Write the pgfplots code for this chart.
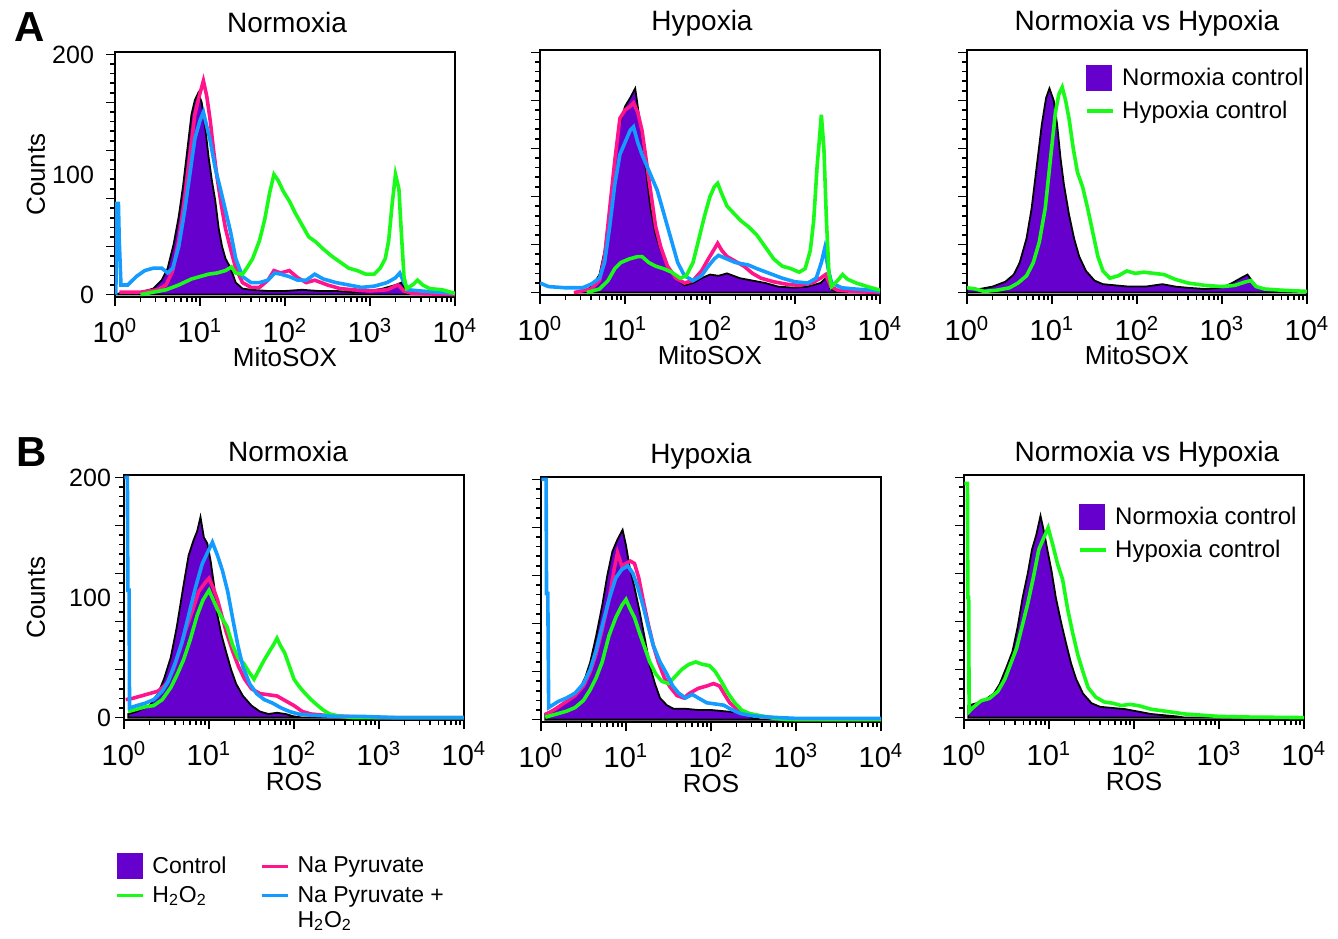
\documentclass[border=0pt]{standalone}
\usepackage{fontspec}
\setmainfont{Liberation Sans}
\usepackage{pgfplots}
\pgfplotsset{compat=1.18}

\definecolor{ctrlpurple}{RGB}{102,0,204}
\definecolor{hgreen}{RGB}{25,250,25}
\definecolor{npink}{RGB}{255,20,140}
\definecolor{nblue}{RGB}{20,155,255}

% x values are log10 of the fluorescence intensity (axis drawn as 10^0 ... 10^4)
\pgfplotsset{
  every axis title/.style={at={(axis description cs:0.5,1)}, anchor=base, font=\fontsize{14}{16}\selectfont},
  flow/.style={
    scale only axis, width=170pt, height=122.5pt,
    xmin=0, xmax=4, ymin=-2, ymax=202,
    axis line style={line width=1pt},
    xtick={0,1,2,3,4},
    xticklabels={10\textsuperscript{0},10\textsuperscript{1},10\textsuperscript{2},10\textsuperscript{3},10\textsuperscript{4}},
    minor xtick={0.301,0.477,0.602,0.699,0.778,0.845,0.903,0.954,
                 1.301,1.477,1.602,1.699,1.778,1.845,1.903,1.954,
                 2.301,2.477,2.602,2.699,2.778,2.845,2.903,2.954,
                 3.301,3.477,3.602,3.699,3.778,3.845,3.903,3.954},
    ytick={0,40,80,120,160,200}, yticklabels={},
    minor y tick num=4,
    tick align=outside, tick pos=left,
    major tick length=4.5pt, minor tick length=2.5pt,
    every tick/.append style={line width=0.8pt, black},
    yticklabel style={font=\fontsize{12.5}{15}\selectfont},
    xticklabel style={font=\fontsize{14.5}{17}\selectfont, yshift=-2.5pt},
    label style={font=\fontsize{13}{15}\selectfont},
    xlabel style={at={(axis description cs:0.5,0)}, anchor=base, yshift=-35pt},
    legend style={draw=none, fill=none, font=\fontsize{12}{14}\selectfont, row sep=2pt},
    legend cell align=left,
  },
  ctrl/.style={fill=ctrlpurple, draw=black, line width=0.9pt, forget plot},
  gr/.style={hgreen, line width=1.8pt, forget plot},
  pk/.style={npink, line width=1.8pt, forget plot},
  bl/.style={nblue, line width=1.8pt, forget plot},
  sqleg/.style={legend image code/.code={\fill[ctrlpurple] (0pt,-6pt) rectangle (12.5pt,6.5pt); \path (15pt,0pt);}},
  grleg/.style={legend image code/.code={\draw[hgreen, line width=1.6pt] (0pt,0pt) -- (13pt,0pt); \path (15.5pt,0pt);}},
  pkleg/.style={legend image code/.code={\draw[npink, line width=1.6pt] (0pt,0pt) -- (13pt,0pt); \path (15.5pt,0pt);}},
  blleg/.style={legend image code/.code={\draw[nblue, line width=1.6pt] (0pt,0pt) -- (13pt,0pt); \path (15.5pt,0pt);}},
}

\begin{document}
\begin{tikzpicture}
\useasboundingbox (0,0) rectangle (669pt,469pt);

\node[anchor=base west, font=\fontsize{21}{25}\selectfont\bfseries] at (3.5pt,448pt) {A};
\node[anchor=base west, font=\fontsize{21}{25}\selectfont\bfseries] at (4.5pt,235.5pt) {B};

% ---------- A, Normoxia ----------
\begin{axis}[flow, at={(57.5pt,320.5pt)}, anchor=south west,
  title={Normoxia}, title style={yshift=9.5pt, xshift=1pt},
  xlabel={MitoSOX}, ylabel={Counts},
  ylabel style={at={([xshift=-39.5pt]axis description cs:0,0.5)}, anchor=center},
  extra y ticks={0,100,200}, extra y tick labels={0,100,200},
  extra y tick style={major tick length=0pt, yticklabel style={xshift=-7pt}}]
\addplot[ctrl] coordinates {(0,0) (0.1,2) (0.3,2) (0.45,5) (0.55,12) (0.62,22) (0.69,42) (0.75,65) (0.8,90) (0.85,120) (0.9,150) (0.94,162) (0.98,168) (1.02,160) (1.06,140) (1.1,115) (1.14,95) (1.18,78) (1.22,55) (1.26,40) (1.3,30) (1.36,22) (1.42,10) (1.5,5) (1.6,4) (1.8,3) (2.0,3) (2.2,4) (2.4,3) (2.6,3) (2.8,2) (3.0,3) (3.15,5) (3.3,8) (3.37,10) (3.42,3) (3.5,1) (3.7,0) (4,0)} \closedcycle;
\addplot[pk] coordinates {(0.05,2) (0.3,2) (0.5,4) (0.6,8) (0.68,20) (0.75,45) (0.82,80) (0.88,115) (0.94,150) (0.99,165) (1.04,178) (1.08,165) (1.12,145) (1.16,120) (1.2,98) (1.25,75) (1.3,55) (1.36,38) (1.42,22) (1.5,10) (1.6,6) (1.7,6) (1.8,12) (1.87,20) (1.95,18) (2.05,20) (2.15,14) (2.25,10) (2.35,12) (2.5,8) (2.65,5) (2.8,4) (3.0,3) (3.2,4) (3.33,8) (3.4,3) (3.5,1) (4,0)};
\addplot[bl] coordinates {(0.01,0) (0.02,76) (0.04,76) (0.05,45) (0.07,8) (0.15,8) (0.25,15) (0.35,20) (0.45,22) (0.55,22) (0.62,18) (0.68,22) (0.75,40) (0.82,70) (0.88,100) (0.94,130) (1.0,145) (1.04,152) (1.08,140) (1.12,128) (1.18,105) (1.24,88) (1.3,70) (1.36,52) (1.42,30) (1.5,15) (1.6,10) (1.7,10) (1.8,12) (1.88,18) (1.95,17) (2.05,15) (2.15,12) (2.25,12) (2.35,17) (2.45,13) (2.6,10) (2.75,8) (2.9,6) (3.05,7) (3.2,10) (3.3,14) (3.35,18) (3.4,10) (3.45,4) (3.6,3) (3.8,2) (4,1)};
\addplot[gr] coordinates {(0.3,0) (0.45,2) (0.6,4) (0.75,8) (0.9,13) (1.0,15) (1.1,17) (1.2,18) (1.3,20) (1.37,23) (1.42,18) (1.5,17) (1.55,22) (1.62,30) (1.7,45) (1.76,62) (1.82,85) (1.87,100) (1.92,95) (1.98,86) (2.05,78) (2.12,68) (2.2,58) (2.28,48) (2.36,44) (2.45,38) (2.55,32) (2.65,27) (2.75,22) (2.85,20) (2.95,17) (3.05,17) (3.12,22) (3.18,30) (3.22,45) (3.26,75) (3.3,100) (3.34,88) (3.37,50) (3.4,15) (3.43,5) (3.5,8) (3.56,12) (3.62,8) (3.7,5) (3.85,4) (4,1)};
\end{axis}

% ---------- A, Hypoxia ----------
\begin{axis}[flow, at={(270pt,321.5pt)}, anchor=south west,
  title={Hypoxia}, title style={yshift=9.5pt, xshift=-4pt},
  xlabel={MitoSOX}]
\addplot[ctrl] coordinates {(0.4,0) (0.55,2) (0.62,6) (0.7,15) (0.76,35) (0.82,70) (0.88,110) (0.94,140) (1.0,155) (1.06,162) (1.12,170) (1.16,150) (1.2,130) (1.25,100) (1.3,70) (1.36,48) (1.42,35) (1.5,22) (1.6,12) (1.7,6) (1.8,8) (1.9,12) (2.0,15) (2.1,14) (2.2,16) (2.35,12) (2.5,10) (2.65,8) (2.8,5) (3.0,4) (3.15,5) (3.3,8) (3.36,12) (3.42,3) (3.5,1) (3.7,0) (4,0)} \closedcycle;
\addplot[pk] coordinates {(0.4,0) (0.6,3) (0.7,10) (0.76,30) (0.82,70) (0.88,110) (0.94,145) (1.0,152) (1.06,155) (1.1,158) (1.15,150) (1.2,135) (1.25,110) (1.3,85) (1.36,55) (1.42,38) (1.5,22) (1.6,12) (1.7,8) (1.8,10) (1.9,18) (1.98,28) (2.04,35) (2.09,41) (2.14,35) (2.2,30) (2.3,26) (2.4,22) (2.5,16) (2.6,12) (2.75,9) (2.9,7) (3.05,6) (3.2,8) (3.3,12) (3.36,15) (3.42,5) (3.5,2) (3.7,1) (4,0)};
\addplot[bl] coordinates {(0,8) (0.1,5) (0.3,4) (0.5,4) (0.6,7) (0.7,12) (0.76,25) (0.82,55) (0.88,90) (0.94,115) (1.0,125) (1.06,135) (1.1,138) (1.15,125) (1.2,115) (1.26,105) (1.32,95) (1.38,85) (1.44,70) (1.5,55) (1.56,40) (1.62,25) (1.7,14) (1.8,10) (1.9,14) (1.98,22) (2.05,28) (2.1,31) (2.2,28) (2.3,25) (2.45,23) (2.55,20) (2.7,16) (2.85,12) (3.0,9) (3.15,8) (3.25,12) (3.31,25) (3.35,37) (3.39,20) (3.43,8) (3.55,4) (3.7,3) (3.9,2) (4,1)};
\addplot[gr] coordinates {(0.55,0) (0.7,3) (0.8,10) (0.88,20) (0.95,25) (1.05,28) (1.15,30) (1.2,30) (1.28,25) (1.36,22) (1.45,20) (1.55,17) (1.65,12) (1.72,14) (1.8,25) (1.87,45) (1.94,65) (2.0,80) (2.05,88) (2.09,91) (2.14,82) (2.2,72) (2.28,66) (2.36,60) (2.45,55) (2.55,48) (2.65,38) (2.75,28) (2.85,22) (2.95,20) (3.05,17) (3.12,20) (3.18,35) (3.22,60) (3.26,105) (3.29,130) (3.31,148) (3.34,120) (3.37,60) (3.4,15) (3.43,5) (3.5,10) (3.56,15) (3.62,11) (3.72,8) (3.85,5) (3.95,3) (4,2)};
\end{axis}

% ---------- A, Normoxia vs Hypoxia ----------
\begin{axis}[flow, at={(483.5pt,321.5pt)}, anchor=south west,
  title={Normoxia vs Hypoxia}, title style={yshift=9.5pt, xshift=5pt},
  xlabel={MitoSOX},
  legend style={at={(axis description cs:1,1)}, anchor=north east, xshift=3.5pt, yshift=-5pt}]
\addlegendimage{sqleg}\addlegendentry{Normoxia control}
\addlegendimage{grleg}\addlegendentry{Hypoxia control}
\addplot[ctrl] coordinates {(0,3) (0.15,3) (0.3,5) (0.45,9) (0.55,15) (0.62,25) (0.7,45) (0.76,70) (0.82,105) (0.88,140) (0.93,162) (0.97,170) (1.02,160) (1.06,140) (1.1,112) (1.14,90) (1.2,65) (1.26,45) (1.32,30) (1.4,18) (1.5,10) (1.6,7) (1.75,6) (1.9,5) (2.1,5) (2.3,7) (2.45,5) (2.6,4) (2.8,3) (3.0,4) (3.12,8) (3.22,12) (3.3,15) (3.35,10) (3.42,4) (3.6,2) (3.8,1) (4,0)} \closedcycle;
\addplot[gr] coordinates {(0,4) (0.1,3) (0.2,1) (0.35,2) (0.5,4) (0.6,8) (0.7,14) (0.78,25) (0.85,42) (0.92,70) (0.98,110) (1.04,150) (1.08,165) (1.12,171) (1.16,160) (1.2,145) (1.25,120) (1.3,100) (1.36,88) (1.42,70) (1.48,50) (1.54,30) (1.6,18) (1.68,12) (1.78,14) (1.88,18) (1.98,16) (2.08,17) (2.2,16) (2.32,15) (2.45,11) (2.6,8) (2.8,6) (3.0,5) (3.15,6) (3.28,9) (3.34,10) (3.4,5) (3.5,3) (3.7,2) (4,1)};
\end{axis}

% ---------- B, Normoxia ----------
\begin{axis}[flow, at={(62pt,109pt)}, anchor=south west,
  title={Normoxia}, title style={yshift=6.5pt, xshift=-3pt},
  xlabel={ROS}, ylabel={Counts},
  ylabel style={at={([xshift=-44pt]axis description cs:0,0.5)}, anchor=center},
  extra y ticks={0,100,200}, extra y tick labels={0,100,200},
  extra y tick style={major tick length=0pt, yticklabel style={xshift=-3pt}}]
\addplot[ctrl] coordinates {(0.05,0) (0.05,3) (0.15,5) (0.3,10) (0.4,20) (0.47,32) (0.55,50) (0.62,75) (0.7,110) (0.76,135) (0.82,148) (0.86,155) (0.9,167) (0.94,150) (0.98,145) (1.02,130) (1.06,110) (1.1,85) (1.15,68) (1.2,55) (1.26,40) (1.32,28) (1.4,18) (1.5,10) (1.6,5) (1.7,3) (1.8,4) (1.9,3) (2.0,1) (2.1,0) (4,0)} \closedcycle;
\addplot[pk] coordinates {(0.02,15) (0.1,16) (0.2,18) (0.3,20) (0.4,22) (0.5,28) (0.58,40) (0.65,55) (0.72,72) (0.8,88) (0.88,105) (0.95,112) (1.0,116) (1.05,108) (1.1,98) (1.15,85) (1.2,72) (1.28,55) (1.35,42) (1.42,32) (1.5,24) (1.6,20) (1.7,19) (1.8,18) (1.9,14) (2.0,10) (2.1,5) (2.2,3) (2.35,2) (2.6,1) (3,0) (4,0)};
\addplot[gr] coordinates {(0.05,5) (0.15,7) (0.25,9) (0.35,10) (0.45,15) (0.55,25) (0.62,35) (0.7,48) (0.78,65) (0.86,85) (0.93,98) (1.0,106) (1.05,98) (1.1,90) (1.16,82) (1.21,76) (1.28,60) (1.34,50) (1.41,45) (1.47,38) (1.53,32) (1.59,40) (1.65,48) (1.71,55) (1.77,62) (1.8,66) (1.84,60) (1.89,54) (1.95,42) (2.0,32) (2.06,26) (2.12,21) (2.2,15) (2.28,10) (2.35,6) (2.42,3) (2.55,1) (2.7,0) (4,0)};
\addplot[bl] coordinates {(0.005,200) (0.04,200) (0.045,106) (0.06,106) (0.065,8) (0.15,10) (0.25,12) (0.35,15) (0.45,22) (0.52,30) (0.6,45) (0.68,62) (0.76,85) (0.84,108) (0.92,128) (1.0,140) (1.04,146) (1.1,135) (1.16,122) (1.22,105) (1.28,82) (1.34,60) (1.4,42) (1.48,28) (1.56,20) (1.65,15) (1.75,12) (1.85,8) (1.95,5) (2.05,3) (2.2,2) (2.5,1) (2.8,1) (3.2,0) (4,0)};
\end{axis}

% ---------- B, Hypoxia ----------
\begin{axis}[flow, at={(270.5pt,108pt)}, anchor=south west,
  title={Hypoxia}, title style={yshift=6.5pt, xshift=-5pt},
  xlabel={ROS}]
\addplot[ctrl] coordinates {(0.05,0) (0.05,5) (0.15,8) (0.25,12) (0.35,17) (0.45,25) (0.52,35) (0.58,48) (0.65,70) (0.72,95) (0.78,120) (0.84,140) (0.9,150) (0.96,158) (1.0,145) (1.04,128) (1.1,110) (1.16,90) (1.22,68) (1.28,45) (1.34,30) (1.4,18) (1.48,12) (1.56,9) (1.7,9) (1.85,8) (2.0,8) (2.15,7) (2.3,6) (2.42,4) (2.5,1) (2.6,0) (4,0)} \closedcycle;
\addplot[pk] coordinates {(0.05,4) (0.15,8) (0.3,15) (0.4,20) (0.5,28) (0.58,40) (0.65,55) (0.72,75) (0.8,100) (0.86,125) (0.9,139) (0.95,128) (1.0,130) (1.05,132) (1.1,130) (1.15,118) (1.2,100) (1.26,80) (1.32,62) (1.38,48) (1.45,35) (1.52,27) (1.6,20) (1.68,18) (1.75,22) (1.85,26) (1.95,28) (2.03,30) (2.1,28) (2.15,22) (2.22,14) (2.3,9) (2.4,6) (2.5,4) (2.65,2) (2.85,1) (3.0,0) (4,0)};
\addplot[gr] coordinates {(0.05,2) (0.15,4) (0.3,7) (0.4,10) (0.5,16) (0.58,25) (0.65,35) (0.72,48) (0.8,70) (0.88,85) (0.95,95) (1.0,100) (1.05,92) (1.1,85) (1.16,72) (1.22,60) (1.28,48) (1.35,38) (1.42,32) (1.5,30) (1.58,36) (1.66,42) (1.74,46) (1.82,48) (1.9,46) (1.98,45) (2.05,40) (2.12,32) (2.2,22) (2.28,14) (2.36,8) (2.45,5) (2.6,3) (2.75,1) (2.9,0) (4,0)};
\addplot[bl] coordinates {(0.005,200) (0.06,200) (0.065,105) (0.08,105) (0.09,10) (0.2,15) (0.3,18) (0.4,22) (0.5,30) (0.58,42) (0.65,58) (0.72,78) (0.8,100) (0.88,118) (0.95,125) (1.02,128) (1.08,122) (1.14,110) (1.2,95) (1.26,78) (1.32,62) (1.4,48) (1.48,38) (1.55,28) (1.62,22) (1.7,18) (1.78,21) (1.85,18) (1.95,14) (2.05,13) (2.15,12) (2.25,8) (2.35,5) (2.5,3) (2.7,2) (3.0,1) (3.3,1) (4,1)};
\end{axis}

% ---------- B, Normoxia vs Hypoxia ----------
\begin{axis}[flow, at={(482pt,109pt)}, anchor=south west,
  title={Normoxia vs Hypoxia}, title style={yshift=6.5pt, xshift=6.5pt},
  xlabel={ROS},
  legend style={at={(axis description cs:1,1)}, anchor=north east, xshift=1.5pt, yshift=-12pt}]
\addlegendimage{sqleg}\addlegendentry{Normoxia control}
\addlegendimage{grleg}\addlegendentry{Hypoxia control}
\addplot[ctrl] coordinates {(0.05,0) (0.05,10) (0.15,12) (0.25,15) (0.35,20) (0.42,28) (0.5,42) (0.57,55) (0.63,75) (0.69,100) (0.75,120) (0.8,140) (0.85,152) (0.9,168) (0.94,155) (0.98,140) (1.03,122) (1.08,100) (1.14,80) (1.2,62) (1.26,45) (1.32,32) (1.4,20) (1.5,12) (1.6,9) (1.75,8) (1.9,7) (2.05,5) (2.2,3) (2.35,2) (2.5,1) (2.6,0) (4,0)} \closedcycle;
\addplot[gr] coordinates {(0.005,195) (0.04,195) (0.045,100) (0.055,100) (0.06,5) (0.1,8) (0.2,14) (0.3,16) (0.4,22) (0.48,32) (0.55,45) (0.62,58) (0.68,75) (0.75,95) (0.82,118) (0.88,140) (0.94,150) (0.99,158) (1.04,145) (1.1,128) (1.16,115) (1.22,90) (1.28,70) (1.34,52) (1.4,38) (1.46,25) (1.55,17) (1.65,13) (1.75,12) (1.85,10) (1.95,11) (2.05,10) (2.2,7) (2.4,5) (2.6,3) (2.8,2) (3.0,1) (3.3,0.5) (4,0)};
\end{axis}

% ---------- shared legend ----------
\begin{axis}[hide axis, scale only axis, width=10pt, height=10pt,
  at={(57.5pt,43pt)}, anchor=north west, xmin=0, xmax=1, ymin=0, ymax=1,
  legend columns=2, legend cell align=left,
  legend style={at={(axis description cs:0,1)}, anchor=north west, draw=none, fill=none,
    inner sep=0pt, font=\fontsize{11.5}{13.5}\selectfont, row sep=1pt,
    /tikz/every even column/.append style={column sep=15pt}}]
\addlegendimage{sqleg}\addlegendentry{Control}
\addlegendimage{pkleg}\addlegendentry{Na Pyruvate}
\addlegendimage{grleg}\addlegendentry{H\textsubscript{2}O\textsubscript{2}}
\addlegendimage{blleg}\addlegendentry{Na Pyruvate +}
\addlegendimage{empty legend}\addlegendentry{}
\addlegendimage{empty legend}\addlegendentry{\raisebox{0pt}[6pt][2pt]{H\textsubscript{2}O\textsubscript{2}}}
\end{axis}
\end{tikzpicture}
\end{document}
